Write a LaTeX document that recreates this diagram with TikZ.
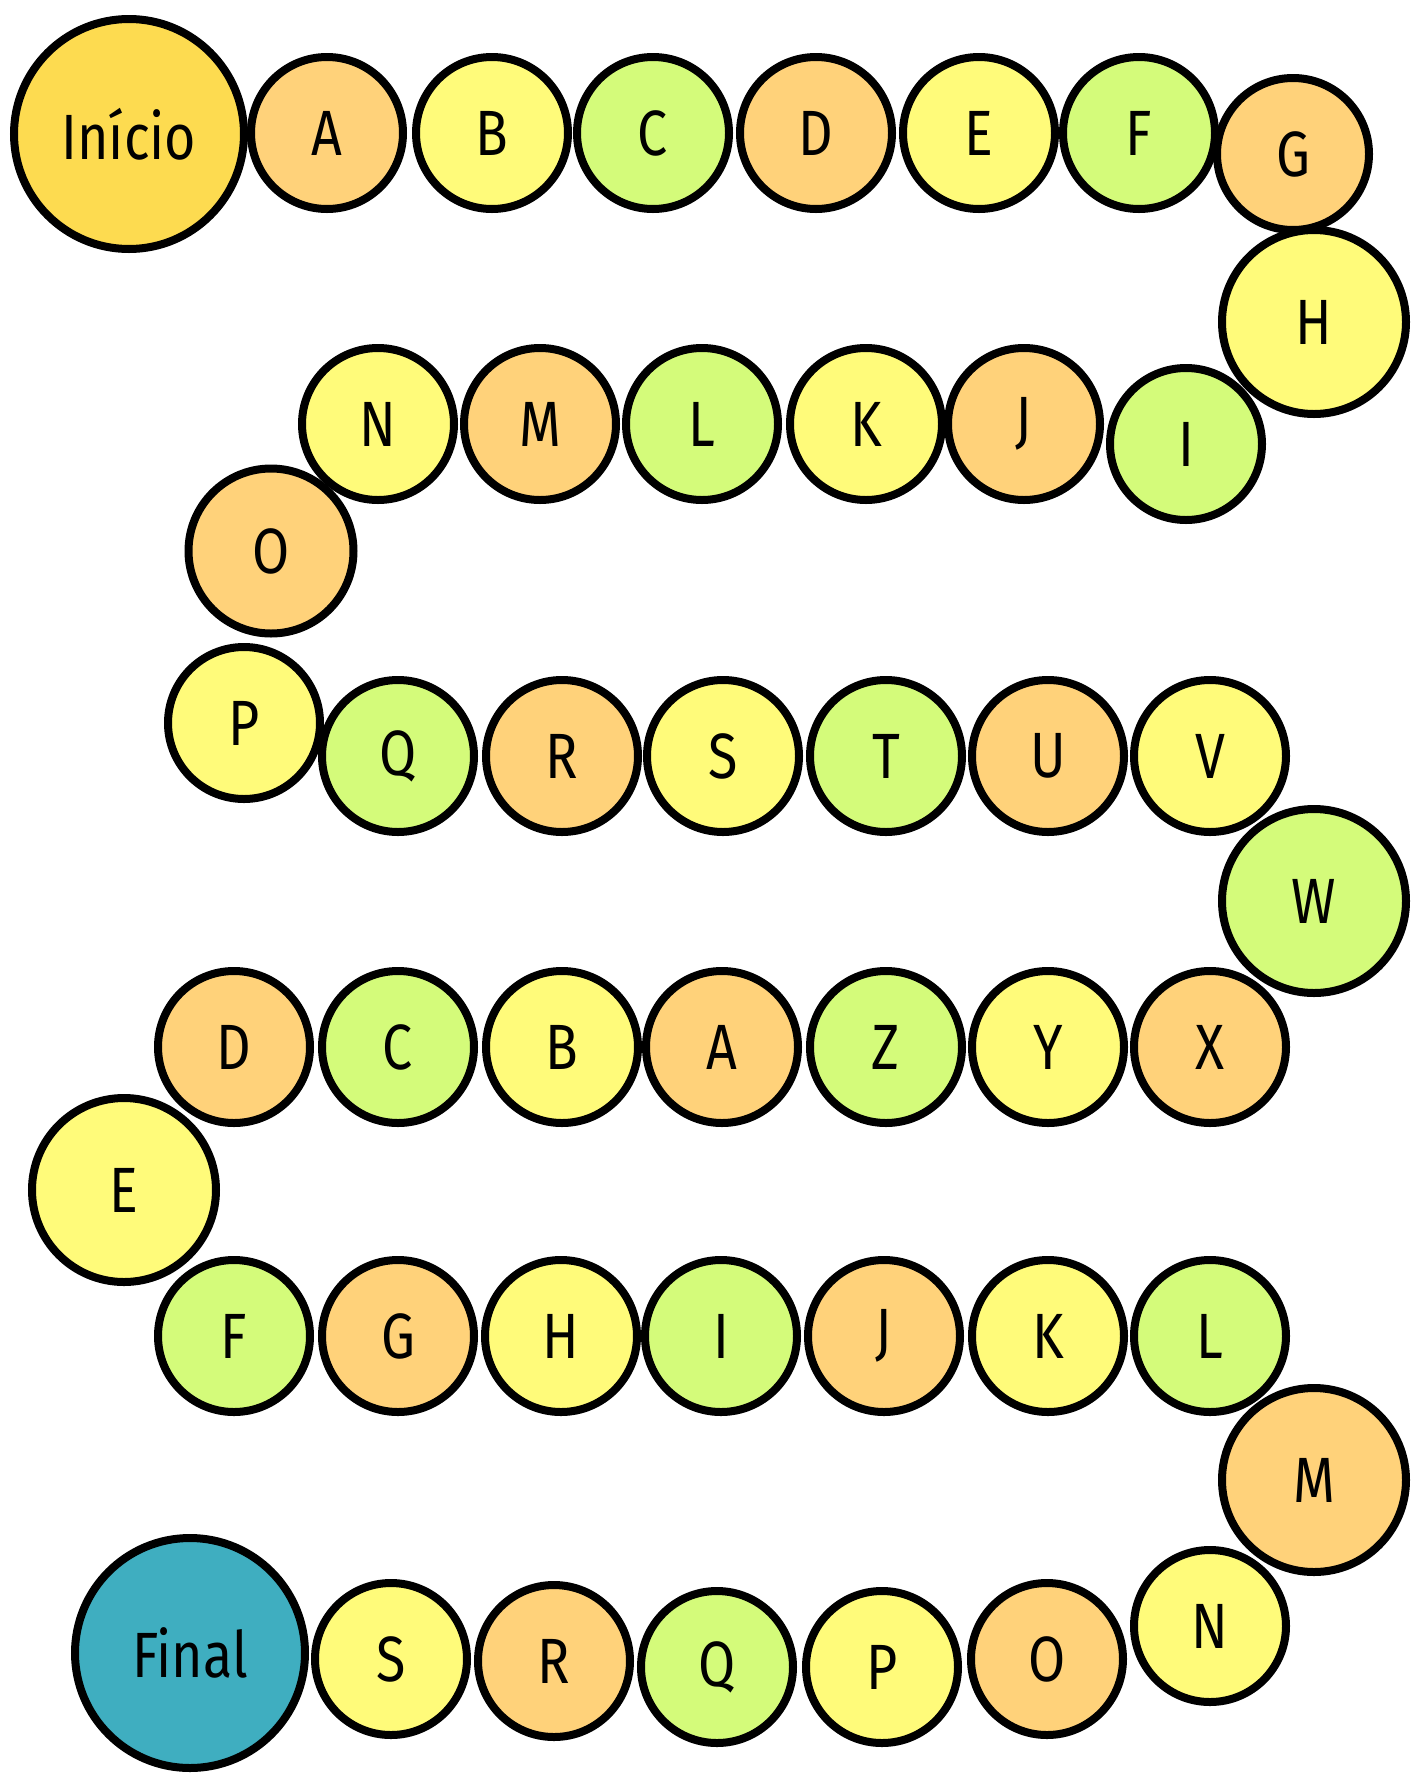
\documentclass[tikz,border=0pt]{standalone}
\usepackage{fontspec}
\setmainfont{Fira Sans}[FakeStretch=0.84]
\definecolor{cor}{RGB}{255,210,122}
\definecolor{cye}{RGB}{255,251,122}
\definecolor{cgr}{RGB}{212,251,122}
\definecolor{cstart}{RGB}{253,219,80}
\definecolor{cend}{RGB}{63,174,192}
\tikzset{
  ball/.style={circle, draw=black, line width=4pt, inner sep=0pt, font=\fontsize{32}{36}\selectfont},
  sm/.style={ball, minimum size=76pt},
  md/.style={ball, minimum size=82.5pt},
  bg/.style={ball, minimum size=92pt},
  hg/.style={ball, minimum size=115pt},
}
\begin{document}
\begin{tikzpicture}[x=0.5pt,y=-0.5pt]
\useasboundingbox (0,0) rectangle (1422,1773);
% row 1
\node[sm, fill=cor] (a1) at (327,133) {A};
\node[sm, fill=cye] (b1) at (492,133) {B};
\node[sm, fill=cgr] (c1) at (653,133) {C};
\node[sm, fill=cor] (d1) at (816,133) {D};
\node[sm, fill=cye] (e1) at (979,133) {E};
\node[sm, fill=cgr] (f1) at (1139,133) {F};
\node[sm, fill=cor] (g1) at (1293,154) {G};
% row 2
\node[sm, fill=cgr] (i1) at (1186,444) {I};
\node[sm, fill=cor] (j1) at (1024,424) {J};
\node[sm, fill=cye] (k1) at (866,424) {K};
\node[sm, fill=cgr] (l1) at (702,424) {L};
\node[sm, fill=cor] (m1) at (540,424) {M};
\node[md, fill=cor] (o1) at (271,551) {O};
\node[sm, fill=cye] (n1) at (378,424) {N};
% row 3
\node[sm, fill=cye] (p1) at (244,723) {P};
\node[sm, fill=cgr] (q1) at (398,756) {Q};
\node[sm, fill=cor] (r1) at (562,756) {R};
\node[sm, fill=cye] (s1) at (723,756) {S};
\node[sm, fill=cgr] (t1) at (886,756) {T};
\node[sm, fill=cor] (u1) at (1048,756) {U};
\node[sm, fill=cye] (v1) at (1210,756) {V};
% row 4
\node[sm, fill=cor] (x1) at (1210,1047) {X};
\node[sm, fill=cye] (y1) at (1048,1047) {Y};
\node[sm, fill=cgr] (z1) at (886,1047) {Z};
\node[sm, fill=cor] (a2) at (722,1047) {A};
\node[sm, fill=cye] (b2) at (562,1047) {B};
\node[sm, fill=cgr] (c2) at (398,1047) {C};
\node[sm, fill=cor] (d2) at (234,1047) {D};
% row 5
\node[sm, fill=cgr] (f2) at (234,1336) {F};
\node[sm, fill=cor] (g2) at (398,1336) {G};
\node[sm, fill=cye] (h2) at (561,1336) {H};
\node[sm, fill=cgr] (i2) at (721,1336) {I};
\node[sm, fill=cor] (j2) at (884,1336) {J};
\node[sm, fill=cye] (k2) at (1048,1336) {K};
\node[sm, fill=cgr] (l2) at (1210,1336) {L};
% row 6
\node[sm, fill=cye] (n2) at (1210,1626) {N};
\node[sm, fill=cor] (o2) at (1047,1659) {O};
\node[sm, fill=cye] (p2) at (882,1667) {P};
\node[sm, fill=cgr] (q2) at (717,1667) {Q};
\node[sm, fill=cor] (r2) at (554,1661) {R};
\node[sm, fill=cye] (s2) at (391,1659) {S};
% big turns
\node[bg, fill=cye] (h1) at (1314,322) {H};
\node[bg, fill=cgr] (w1) at (1314,901) {W};
\node[bg, fill=cye] (e2) at (124,1190) {E};
\node[bg, fill=cor] (m2) at (1314,1480) {M};
% start / end
\node[hg, fill=cstart] (start) at (129,134) {Início};
\node[hg, fill=cend] (final) at (190,1653) {Final};
\end{tikzpicture}
\end{document}
